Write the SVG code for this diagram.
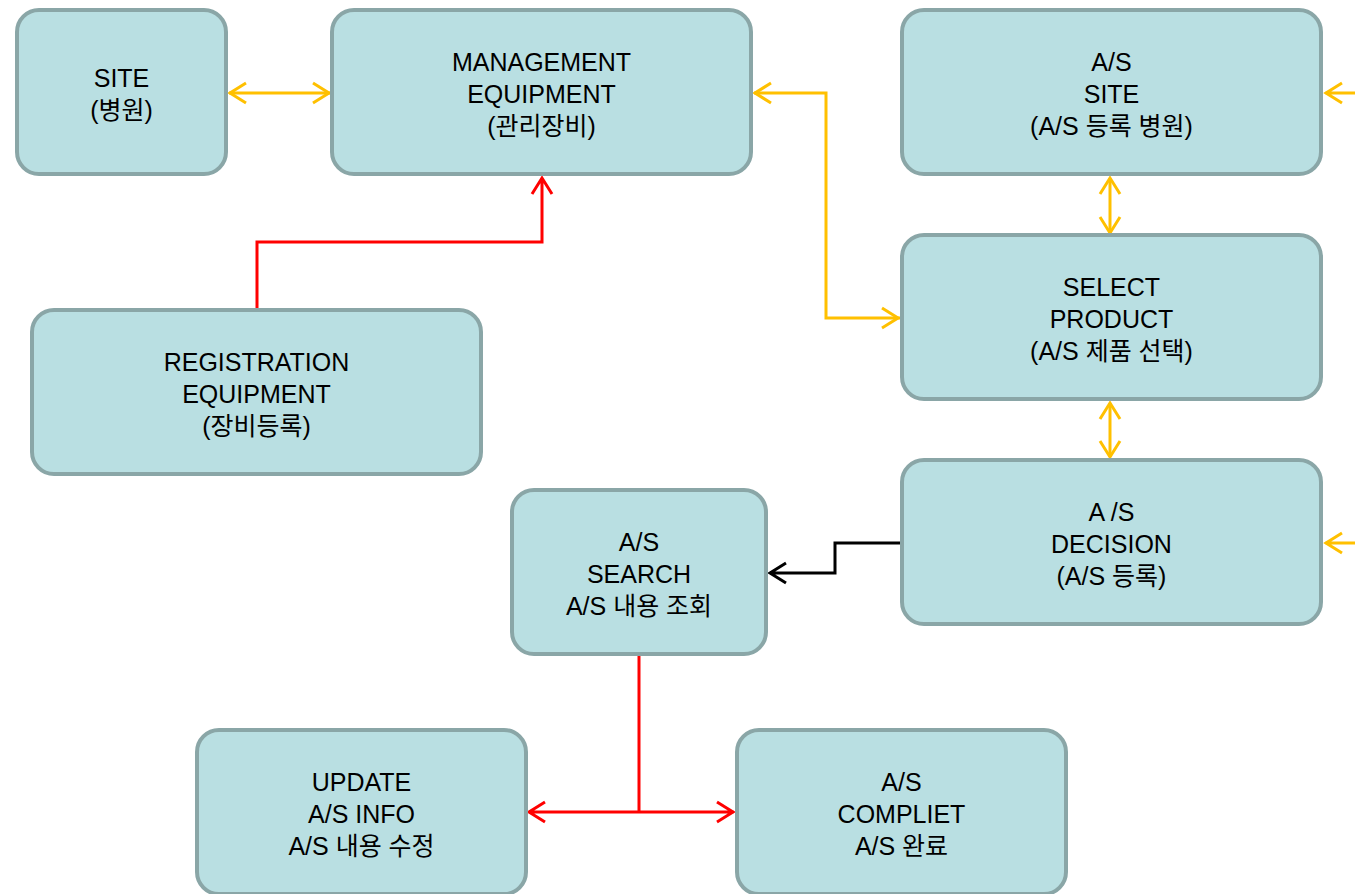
<svg xmlns="http://www.w3.org/2000/svg" width="1355" height="894" viewBox="0 0 1355 894">
<defs>
<style>
.n{fill:#b9dfe2;stroke:#8aa6a7;stroke-width:4}
.t{font-family:"Liberation Sans","Noto Sans CJK KR",sans-serif;font-size:25px;fill:#000;text-anchor:middle}
.y{fill:none;stroke:#ffc000;stroke-width:3}
.r{fill:none;stroke:#ff0000;stroke-width:3}
.k{fill:none;stroke:#000;stroke-width:3}
</style>
</defs>
<rect width="1355" height="894" fill="#fff"/>
<g id="connectors">
<path class="y" d="M229,93 L330,93"/>
<path class="y" d="M246,83 L230,93 L246,103 M313,83 L329,93 L313,103"/>
<path class="y" d="M754,93 L826,93 L826,318 L900,318"/>
<path class="y" d="M771,83 L755,93 L771,103 M882,308 L898,318 L882,328"/>
<path class="y" d="M1110,178 L1110,233"/>
<path class="y" d="M1100,194 L1110,178 L1120,194 M1100,217 L1110,233 L1120,217"/>
<path class="y" d="M1110,403 L1110,457"/>
<path class="y" d="M1100,419 L1110,403 L1120,419 M1100,441 L1110,457 L1120,441"/>
<path class="y" d="M1355,93 L1325,93 M1342,83 L1326,93 L1342,103"/>
<path class="y" d="M1355,543 L1325,543 M1342,533 L1326,543 L1342,553"/>
<path class="k" d="M901,543 L835,543 L835,573 L770,573 M786,563 L770,573 L786,583"/>
<path class="r" d="M257,309 L257,242 L542,242 L542,178 M532,194 L542,178 L552,194"/>
<path class="r" d="M639,656 L639,812"/>
<path class="r" d="M529,812 L734,812 M545,802 L529,812 L545,822 M717,802 L733,812 L717,822"/>
</g>
<g id="site"><rect class="n" x="17" y="10" width="209" height="164" rx="22"/><text class="t" x="121.5" y="87">SITE</text><text class="t" x="121.5" y="119">(병원)</text></g>
<g id="management"><rect class="n" x="332" y="10" width="419" height="164" rx="22"/><text class="t" x="541.5" y="71">MANAGEMENT</text><text class="t" x="541.5" y="103">EQUIPMENT</text><text class="t" x="541.5" y="135">(관리장비)</text></g>
<g id="as-site"><rect class="n" x="902" y="10" width="419" height="164" rx="22"/><text class="t" x="1111.5" y="71">A/S</text><text class="t" x="1111.5" y="103">SITE</text><text class="t" x="1111.5" y="135">(A/S 등록 병원)</text></g>
<g id="select-product"><rect class="n" x="902" y="235" width="419" height="164" rx="22"/><text class="t" x="1111.5" y="296">SELECT</text><text class="t" x="1111.5" y="328">PRODUCT</text><text class="t" x="1111.5" y="360">(A/S 제품 선택)</text></g>
<g id="registration"><rect class="n" x="32" y="310" width="449" height="164" rx="22"/><text class="t" x="256.5" y="371">REGISTRATION</text><text class="t" x="256.5" y="403">EQUIPMENT</text><text class="t" x="256.5" y="435">(장비등록)</text></g>
<g id="decision"><rect class="n" x="902" y="460" width="419" height="164" rx="22"/><text class="t" x="1111.5" y="521">A /S</text><text class="t" x="1111.5" y="553">DECISION</text><text class="t" x="1111.5" y="585">(A/S 등록)</text></g>
<g id="search"><rect class="n" x="512" y="490" width="254" height="164" rx="22"/><text class="t" x="639" y="551">A/S</text><text class="t" x="639" y="583">SEARCH</text><text class="t" x="639" y="615">A/S 내용 조회</text></g>
<g id="update"><rect class="n" x="197" y="730" width="329" height="164" rx="22"/><text class="t" x="361.5" y="791">UPDATE</text><text class="t" x="361.5" y="823">A/S INFO</text><text class="t" x="361.5" y="855">A/S 내용 수정</text></g>
<g id="compliet"><rect class="n" x="737" y="730" width="329" height="164" rx="22"/><text class="t" x="901.5" y="791">A/S</text><text class="t" x="901.5" y="823">COMPLIET</text><text class="t" x="901.5" y="855">A/S 완료</text></g>
</svg>
